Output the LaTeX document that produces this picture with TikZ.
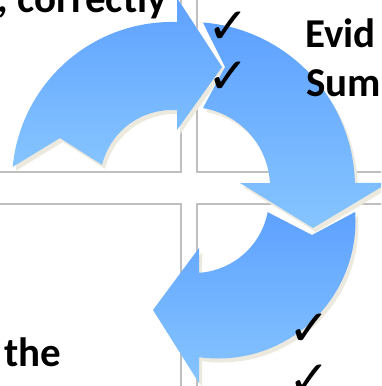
\documentclass[tikz,border=0pt]{standalone}
\usepackage{fontspec}
\setmainfont{Carlito}
\newfontfamily\tickfont{DejaVu Sans}

\definecolor{gridgray}{RGB}{191,191,191}
\definecolor{arrowtop}{RGB}{94,161,255}
\definecolor{arrowbottom}{RGB}{134,197,255}
\definecolor{shadowbeige}{RGB}{236,233,222}

\begin{document}
\begin{tikzpicture}[x = 1pt, y = -1pt,
    gridbox/.style = {draw = gridgray, line width = 1.5pt},
    arrowbody/.style = {top color = arrowtop, bottom color = arrowbottom},
    arrowshadow/.style = {fill = shadowbeige, shift = {(3, 4)}},
    heading/.style = {font = \fontsize{41}{49}\selectfont\bfseries, inner sep = 0, anchor = base west},
    tickmark/.style = {font = \tickfont\fontsize{50}{50}\selectfont, inner sep = 0}]

    \def\width  {381}
    \def\height {386}

    \useasboundingbox (0, 0) rectangle (\width, \height);
    \clip (0, 0) rectangle (\width, \height);

    % boxes
    \path [gridbox] (-10, -10) rectangle (181, 172);
    \path [gridbox] (197, -10) rectangle (\width + 10, 172);
    \path [gridbox] (-10, 204) rectangle (181, \height + 10);
    \path [gridbox] (197, 204) rectangle (\width + 10, \height + 10);

    % arrow 1, top left
    \def\arrowone {(12.7, 166.9) arc [start angle = 185.4, end angle = 271.8, radius = 160]
        -- (177, -2) -- (222, 67) -- (177, 130) -- (177, 110.2)
        arc [start angle = 274, end angle = 193.8, radius = 72]
        -- (60, 138) -- cycle}
    % arrow 2, right
    \def\arrowtwo {(202.9, 22.5) arc [start angle = 274.5, end angle = 358.6, radius = 165]
        -- (388, 183) -- (313, 228) -- (240, 183) -- (269.9, 183)
        arc [start angle = 357.1, end angle = 279.3, radius = 80]
        -- (225, 67) -- cycle}
    % arrow 3, bottom
    \def\arrowthree {(355.2, 211.9) arc [start angle = 356.2, end angle = 457.9, radius = 137.5]
        -- (199, 383) -- (153, 310) -- (199, 248) -- (199, 272.8)
        arc [start angle = 86.2, end angle = 10.9, radius = 75]
        -- (312, 235) -- cycle}

    \path [arrowshadow] \arrowone;
    \path [arrowbody] \arrowone;
    \path [arrowshadow] \arrowtwo;
    \path [arrowbody] \arrowtwo;
    \path [arrowshadow] \arrowthree;
    \path [arrowbody] \arrowthree;

    % texts
    \node [heading, anchor = base east] (correctly) at (167, 12.5) {, correctly};
    \node [heading] (evid) at (305, 47) {Evid};
    \node [heading] (sum) at (306, 96) {Sum};
    \node [heading] (the) at (4, 366) {the};

    % ticks
    \node [tickmark] (tick1) at (228, 28) {✓};
    \node [tickmark] (tick2) at (228, 78) {✓};
    \node [tickmark] (tick3) at (309, 330) {✓};
    \node [tickmark] (tick4) at (309, 381) {✓};

\end{tikzpicture}
\end{document}
